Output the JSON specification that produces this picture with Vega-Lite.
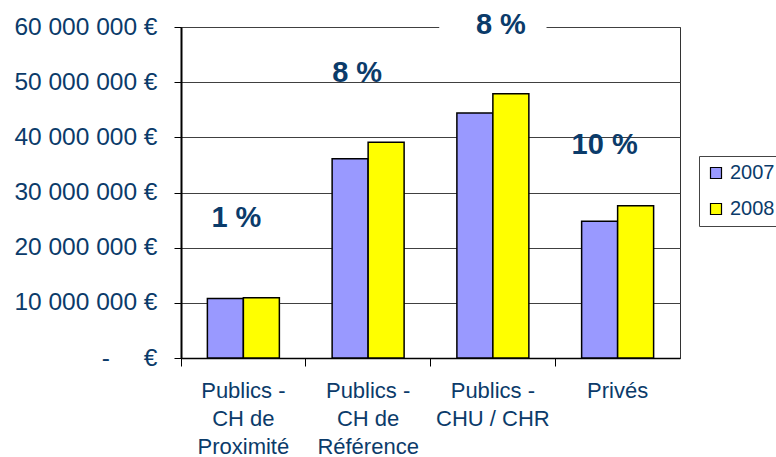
{
  "$schema": "https://vega.github.io/schema/vega-lite/v6.json",
  "width": 499,
  "height": 331,
  "autosize": {"type": "none"},
  "padding": {"left": 181, "top": 27, "right": 96, "bottom": 99},
  "background": "white",
  "config": {
    "locale": {"number": {"decimal": ",", "thousands": "\u00a0", "grouping": [3], "currency": ["", "\u00a0€"]}},
    "font": "Liberation Sans",
    "view": {"stroke": "#333333", "strokeWidth": 1}
  },
  "datasets": {
    "sales": [
      {"cat": "Publics - CH de Proximité", "year": "2007", "value": 10800000},
      {"cat": "Publics - CH de Proximité", "year": "2008", "value": 10900000},
      {"cat": "Publics - CH de Référence", "year": "2007", "value": 36100000},
      {"cat": "Publics - CH de Référence", "year": "2008", "value": 39100000},
      {"cat": "Publics - CHU / CHR", "year": "2007", "value": 44400000},
      {"cat": "Publics - CHU / CHR", "year": "2008", "value": 47900000},
      {"cat": "Privés", "year": "2007", "value": 24800000},
      {"cat": "Privés", "year": "2008", "value": 27600000}
    ],
    "growth": [
      {"cat": "Publics - CH de Proximité", "label": "1 %", "pos": 25400000},
      {"cat": "Publics - CH de Référence", "label": "8 %", "pos": 51700000},
      {"cat": "Publics - CHU / CHR", "label": "8 %", "pos": 60400000},
      {"cat": "Privés", "label": "10 %", "pos": 38600000}
    ],
    "gap": [
      {"cat": "Publics - CHU / CHR", "lo": 58000000, "hi": 62500000}
    ]
  },
  "layer": [
    {
      "data": {"name": "sales"},
      "mark": {"type": "bar", "stroke": "black", "strokeWidth": 1.5},
      "encoding": {
        "x": {
          "field": "cat", "type": "nominal", "sort": null,
          "scale": {"domain": ["Publics - CH de Proximité", "Publics - CH de Référence", "Publics - CHU / CHR", "Privés"], "paddingInner": 0, "paddingOuter": 0},
          "axis": {
            "title": null, "labelAngle": 0, "bandPosition": 0, "tickSize": 8, "tickColor": "black",
            "domainColor": "black", "domainWidth": 1.5, "labelFontSize": 22, "labelColor": "#0b3b6a",
            "labelLineHeight": 28, "labelPadding": 14, "labelBaseline": "top",
            "labelExpr": "datum.value == 'Publics - CH de Proximité' ? ['Publics -', 'CH de', 'Proximité'] : datum.value == 'Publics - CH de Référence' ? ['Publics -', 'CH de', 'Référence'] : datum.value == 'Publics - CHU / CHR' ? ['Publics -', 'CHU / CHR'] : datum.value"
          }
        },
        "xOffset": {"field": "year", "type": "nominal", "scale": {"paddingInner": 0, "paddingOuter": 0.733}},
        "y": {
          "field": "value", "type": "quantitative",
          "scale": {"domain": [0, 60000000], "nice": false},
          "axis": {
            "title": null, "values": [0, 10000000, 20000000, 30000000, 40000000, 50000000, 60000000],
            "format": ",d", "labelFontSize": 24.5, "labelColor": "#0b3b6a", "labelPadding": 17,
            "tickSize": 7, "tickColor": "black", "domainColor": "black", "domainWidth": 2,
            "grid": true, "gridColor": "#404040", "gridWidth": 1,
            "labelExpr": "datum.value == 0 ? '-\u00a0\u00a0\u00a0\u00a0\u00a0€' : datum.label + '\u00a0€'"
          }
        },
        "color": {
          "field": "year", "type": "nominal",
          "scale": {"domain": ["2007", "2008"], "range": ["#9999FF", "#FFFF00"]},
          "legend": {
            "title": null, "orient": "none", "legendX": 518, "legendY": 129,
            "padding": 7, "strokeColor": "#444444", "fillColor": "white",
            "symbolType": "square", "symbolSize": 121, "symbolStrokeColor": "black", "symbolStrokeWidth": 1.2,
            "labelFontSize": 20, "labelColor": "#0b3b6a", "rowPadding": 16, "labelOffset": 4
          }
        }
      }
    },
    {
      "data": {"name": "gap"},
      "mark": {"type": "bar", "fill": "white", "stroke": null, "width": {"band": 0.86}},
      "encoding": {
        "x": {"field": "cat", "type": "nominal", "sort": null},
        "y": {"field": "lo", "type": "quantitative"},
        "y2": {"field": "hi"}
      }
    },
    {
      "data": {"name": "growth"},
      "transform": [{"filter": "datum.cat == 'Publics - CH de Proximité'"}],
      "mark": {"type": "text", "fontSize": 29, "fontWeight": "bold", "color": "#0b3b6a", "baseline": "middle", "align": "center", "dx": -7},
      "encoding": {
        "x": {"field": "cat", "type": "nominal", "sort": null},
        "y": {"field": "pos", "type": "quantitative"},
        "text": {"field": "label"}
      }
    },
    {
      "data": {"name": "growth"},
      "transform": [{"filter": "datum.cat == 'Publics - CH de Référence'"}],
      "mark": {"type": "text", "fontSize": 29, "fontWeight": "bold", "color": "#0b3b6a", "baseline": "middle", "align": "center", "dx": -11},
      "encoding": {
        "x": {"field": "cat", "type": "nominal", "sort": null},
        "y": {"field": "pos", "type": "quantitative"},
        "text": {"field": "label"}
      }
    },
    {
      "data": {"name": "growth"},
      "transform": [{"filter": "datum.cat == 'Publics - CHU / CHR'"}],
      "mark": {"type": "text", "fontSize": 29, "fontWeight": "bold", "color": "#0b3b6a", "baseline": "middle", "align": "center", "dx": 8},
      "encoding": {
        "x": {"field": "cat", "type": "nominal", "sort": null},
        "y": {"field": "pos", "type": "quantitative"},
        "text": {"field": "label"}
      }
    },
    {
      "data": {"name": "growth"},
      "transform": [{"filter": "datum.cat == 'Privés'"}],
      "mark": {"type": "text", "fontSize": 29, "fontWeight": "bold", "color": "#0b3b6a", "baseline": "middle", "align": "center", "dx": -13},
      "encoding": {
        "x": {"field": "cat", "type": "nominal", "sort": null},
        "y": {"field": "pos", "type": "quantitative"},
        "text": {"field": "label"}
      }
    }
  ]
}
